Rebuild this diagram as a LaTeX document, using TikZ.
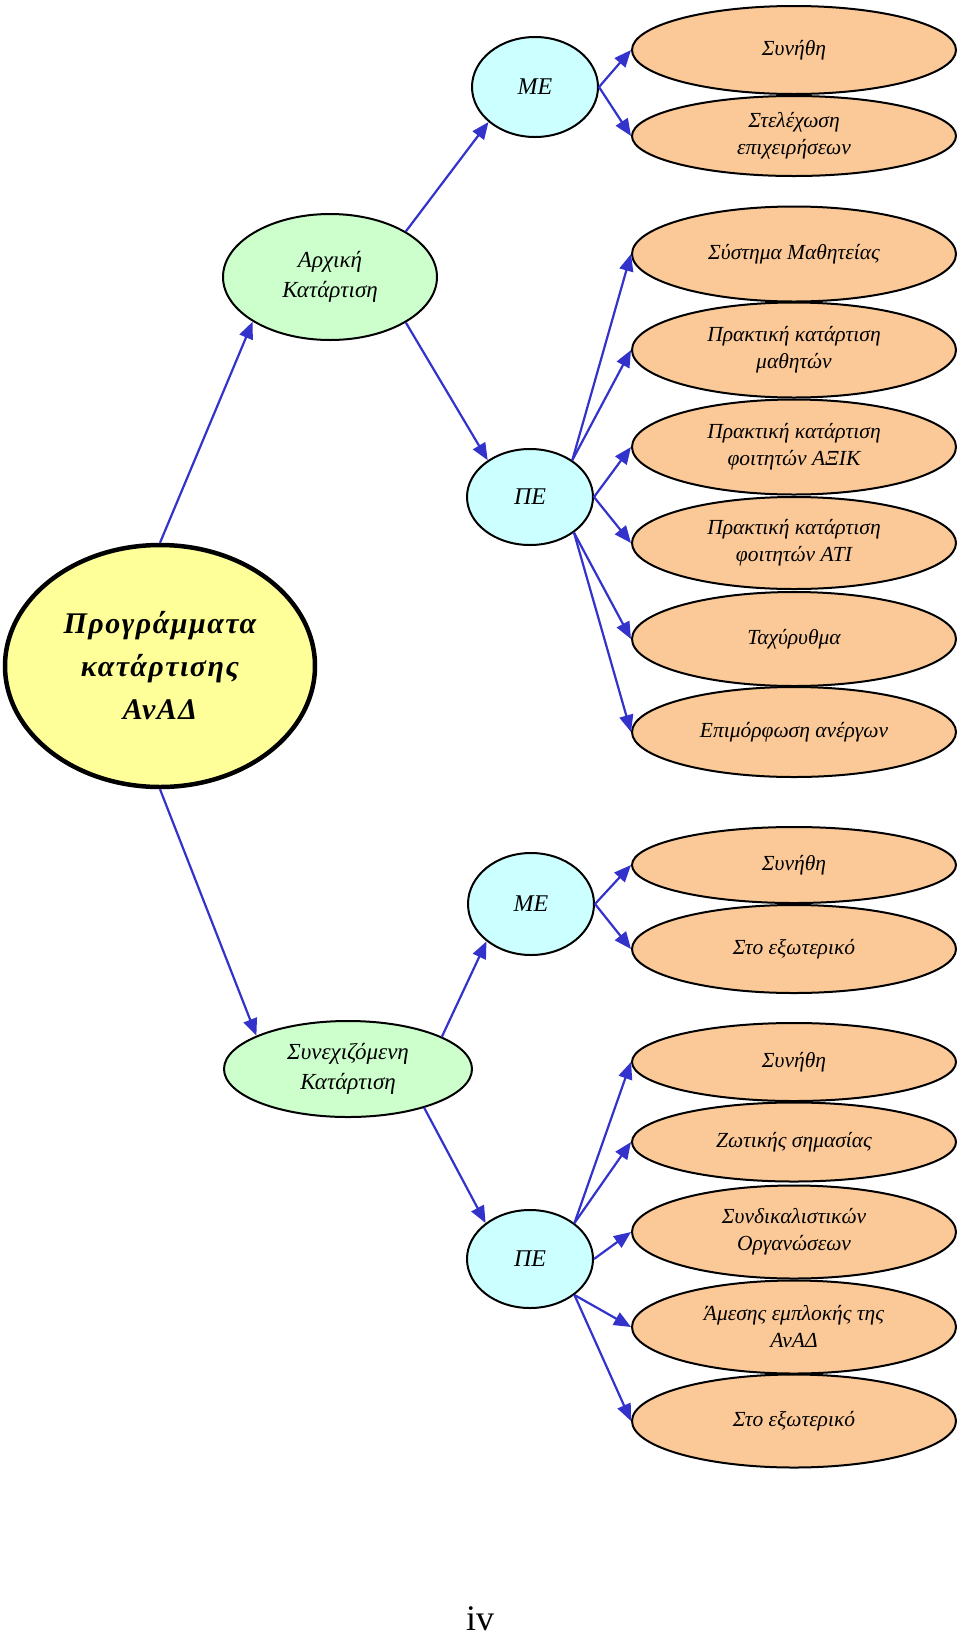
\documentclass[tikz,border=0pt]{standalone}
\usepackage{fontspec}
\setmainfont{Liberation Serif}
\usetikzlibrary{shapes.geometric,arrows.meta}
\definecolor{leafc}{RGB}{251,201,152}
\definecolor{midc}{RGB}{204,255,255}
\definecolor{lvlc}{RGB}{204,255,204}
\definecolor{rootc}{RGB}{255,255,153}
\definecolor{arrowc}{RGB}{51,51,204}
\tikzset{
 base/.style={ellipse, draw=black, line width=2pt, inner sep=0pt, align=center, font=\itshape\fontsize{21.5}{27}\selectfont},
 leaf/.style={base, fill=leafc, minimum width=324pt},
 mid/.style={base, fill=midc, minimum width=126pt, font=\itshape\fontsize{24}{28}\selectfont},
 lvl/.style={base, fill=lvlc, font=\itshape\fontsize{23}{30}\selectfont},
 conn/.style={draw=arrowc, line width=2.2pt, -{Triangle[length=17pt,width=14pt]}},
}
\begin{document}
\begin{tikzpicture}[x=1pt,y=-1pt]
\useasboundingbox (0,0) rectangle (960,1642);
% root
\node[base, fill=rootc, line width=4.5pt, minimum width=310pt, minimum height=242pt,
  font=\bfseries\itshape\fontsize{30}{43}\selectfont\addfontfeatures{LetterSpace=5}] (root) at (160,666)
  {Προγράμματα\\κατάρτισης\\ΑνΑΔ};
% level nodes
\node[lvl, minimum width=214pt, minimum height=126pt] (arch) at (330,277) {Αρχική\\Κατάρτιση};
\node[lvl, minimum width=248pt, minimum height=96pt] (syn) at (348,1069) {Συνεχιζόμενη\\Κατάρτιση};
% mid nodes
\node[mid, minimum height=100pt] (me1) at (535,87) {ΜΕ};
\node[mid, minimum height=96pt] (pe1) at (530,497) {ΠΕ};
\node[mid, minimum height=102pt] (me2) at (531,904) {ΜΕ};
\node[mid, minimum height=98pt] (pe2) at (530,1259) {ΠΕ};
% leaves
\node[leaf, minimum height=88pt] (a1) at (794,50) {Συνήθη};
\node[leaf, minimum height=80pt] (a2) at (794,136) {Στελέχωση\\επιχειρήσεων};
\node[leaf, minimum height=95pt] (b1) at (794,254) {Σύστημα Μαθητείας};
\node[leaf, minimum height=95pt] (b2) at (794,350) {Πρακτική κατάρτιση\\μαθητών};
\node[leaf, minimum height=95pt] (b3) at (794,447) {Πρακτική κατάρτιση\\φοιτητών ΑΞΙΚ};
\node[leaf, minimum height=92pt] (b4) at (794,543) {Πρακτική κατάρτιση\\φοιτητών ΑΤΙ};
\node[leaf, minimum height=94pt] (b5) at (794,639) {Ταχύρυθμα};
\node[leaf, minimum height=90pt] (b6) at (794,732) {Επιμόρφωση ανέργων};
\node[leaf, minimum height=76pt] (c1) at (794,865) {Συνήθη};
\node[leaf, minimum height=88pt] (c2) at (794,949) {Στο εξωτερικό};
\node[leaf, minimum height=78pt] (d1) at (794,1062) {Συνήθη};
\node[leaf, minimum height=79pt] (d2) at (794,1142) {Ζωτικής σημασίας};
\node[leaf, minimum height=93pt] (d3) at (794,1232) {Συνδικαλιστικών\\Οργανώσεων};
\node[leaf, minimum height=93pt] (d4) at (794,1327) {Άμεσης εμπλοκής της\\ΑνΑΔ};
\node[leaf, minimum height=93pt] (d5) at (794,1421) {Στο εξωτερικό};
% connectors
\draw[conn] (root.north) -- (arch.210);
\draw[conn] (root.south) -- (syn.160);
\draw[conn] (arch.31) -- (me1.217);
\draw[conn] (arch.-31) -- (pe1.139);
\draw[conn] (me1.east) -- (a1.west);
\draw[conn] (me1.east) -- (a2.west);
\draw[conn] (pe1.41) -- (b1.west);
\draw[conn] (pe1.41) -- (b2.west);
\draw[conn] (pe1.east) -- (b3.west);
\draw[conn] (pe1.east) -- (b4.west);
\draw[conn] (pe1.-39) -- (b5.west);
\draw[conn] (pe1.-39) -- (b6.west);
\draw[conn] (syn.19) -- (me2.220);
\draw[conn] (syn.-27) -- (pe2.141);
\draw[conn] (me2.east) -- (c1.west);
\draw[conn] (me2.east) -- (c2.west);
\draw[conn] (pe2.39) -- (d1.west);
\draw[conn] (pe2.39) -- (d2.west);
\draw[conn] (pe2.east) -- (d3.west);
\draw[conn] (pe2.-39) -- (d4.west);
\draw[conn] (pe2.-39) -- (d5.west);
% page number
\node[font=\fontsize{36}{36}\selectfont, anchor=base, inner sep=0pt] (pg) at (480,1630) {iv};
\end{tikzpicture}
\end{document}
